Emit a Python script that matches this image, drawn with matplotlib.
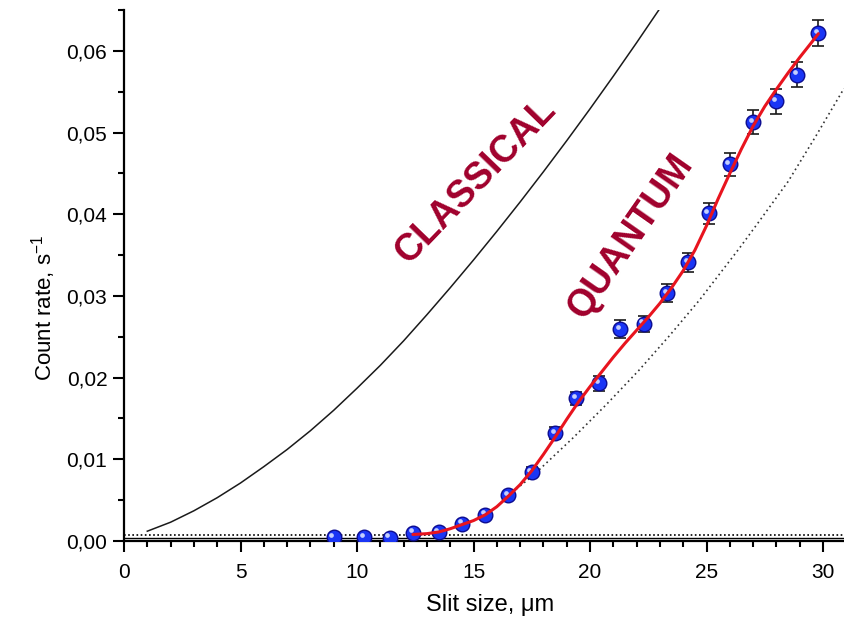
import matplotlib
matplotlib.use("Agg")
import matplotlib.pyplot as plt
import matplotlib.transforms as mtransforms
from matplotlib.ticker import MultipleLocator, FixedLocator, FixedFormatter

plt.rcParams['font.family'] = ['Liberation Sans', 'DejaVu Sans']
plt.rcParams['mathtext.fontset'] = 'custom'
plt.rcParams['mathtext.rm'] = 'Liberation Sans'
plt.rcParams['mathtext.it'] = 'Liberation Sans:italic'
plt.rcParams['mathtext.bf'] = 'Liberation Sans:bold'

# ---- data ----
exp_x = [9.0, 10.3, 11.4, 12.4, 13.5, 14.5, 15.5, 16.5, 17.5, 18.5, 19.4, 20.4,
         21.3, 22.3, 23.3, 24.2, 25.1, 26.0, 27.0, 28.0, 28.9, 29.8]
exp_y = [0.0005, 0.0005, 0.0004, 0.0010, 0.0011, 0.0021, 0.0032, 0.0056, 0.0084,
         0.0132, 0.0175, 0.0193, 0.0259, 0.0266, 0.0303, 0.0341, 0.0401, 0.0461,
         0.0513, 0.0538, 0.0571, 0.0622]
exp_err = [0.0002, 0.0002, 0.0002, 0.0003, 0.0003, 0.0003, 0.0004, 0.0004, 0.0006,
           0.0007, 0.0008, 0.0009, 0.0011, 0.0010, 0.0011, 0.0012, 0.0013, 0.0014,
           0.0015, 0.0015, 0.0015, 0.0016]

fit_x = [12.4, 13.0, 13.5, 14.0, 14.5, 15.0, 15.5, 16.0, 16.5, 17.0, 17.5, 18.0,
         18.5, 19.0, 19.5, 20.0, 20.5, 21.0, 21.5, 22.0, 22.5, 23.0, 23.5, 24.0,
         24.5, 25.0, 25.5, 26.0, 26.5, 27.0, 27.5, 28.0, 28.5, 29.0, 29.5, 29.8]
fit_y = [0.0008, 0.0009, 0.0011, 0.0015, 0.0020, 0.0025, 0.0032, 0.0042, 0.0055,
         0.0069, 0.0086, 0.0106, 0.0127, 0.0149, 0.0170, 0.0189, 0.0207, 0.0225,
         0.0242, 0.0258, 0.0274, 0.0291, 0.0310, 0.0331, 0.0356, 0.0386, 0.0419,
         0.0450, 0.0480, 0.0508, 0.0532, 0.0553, 0.0573, 0.0592, 0.0610, 0.0621]

classical_x = [1, 2, 3, 4, 5, 6, 7, 8, 9, 10, 11, 12, 13, 14, 15, 16, 17, 18,
               19, 20, 21, 22, 23, 23.2]
classical_y = [0.0012, 0.0023, 0.0037, 0.0053, 0.0071, 0.0091, 0.0112, 0.0135,
               0.0160, 0.0187, 0.0215, 0.0245, 0.0277, 0.0310, 0.0344, 0.0379,
               0.0415, 0.0452, 0.0490, 0.0529, 0.0569, 0.0610, 0.0652, 0.0660]

dotted_x = [16.5, 17.55, 19.3, 20.7, 22.1, 23.4, 24.7, 26.4, 27.2, 28.5, 29.7, 30.9]
dotted_y = [0.0056, 0.0080, 0.0127, 0.0167, 0.0209, 0.0251, 0.0295, 0.0358,
            0.0389, 0.0440, 0.0496, 0.0554]

baseline_solid = 0.0004
baseline_dotted = 0.0007

y_ticks = [0.00, 0.01, 0.02, 0.03, 0.04, 0.05, 0.06]
y_ticklabels = ["0,00", "0,01", "0,02", "0,03", "0,04", "0,05", "0,06"]
x_ticks = [0, 5, 10, 15, 20, 25, 30]
x_ticklabels = ["0", "5", "10", "15", "20", "25", "30"]

label_color = '#a0002c'

# ---- figure ----
fig = plt.figure(figsize=(8.44, 6.24), dpi=100)
ax = fig.add_axes([124/844, 1 - 541/624, 1 - 124/844, (541 - 10)/624])
ax.set_xlim(0, 30.9)
ax.set_ylim(0, 0.065)

for s in ['top', 'right']:
    ax.spines[s].set_visible(False)
for s in ['left', 'bottom']:
    ax.spines[s].set_linewidth(1.6)

ax.axhline(baseline_solid, color='black', lw=1.0, zorder=1)
ax.axhline(baseline_dotted, color='black', lw=1.2, ls=(0, (1, 1.5)), zorder=1)

ax.plot(classical_x, classical_y, color='#1a1a1a', lw=1.1, zorder=2)
ax.plot(dotted_x, dotted_y, color='#333333', lw=1.2, ls=(0, (1, 2)), zorder=2)

ax.errorbar(exp_x, exp_y, yerr=exp_err, fmt='none', ecolor='#1a1a1a',
            elinewidth=1.2, capsize=4.5, capthick=1.2, zorder=3)
ax.plot(exp_x, exp_y, 'o', ms=10.5, mfc='#1a35f5', mec='#0c0c90', mew=1.0,
        ls='none', zorder=4)
hl_trans = mtransforms.offset_copy(ax.transData, fig=fig, x=-1.7, y=1.7, units='points')
ax.plot(exp_x, exp_y, 'o', ms=3.4, mfc='#d8e0ff', mec='none', ls='none',
        transform=hl_trans, zorder=5, alpha=0.9)

ax.plot(fit_x, fit_y, color='#e8141e', lw=2.2, zorder=6, solid_capstyle='round',
        solid_joinstyle='round')

ax.xaxis.set_major_locator(FixedLocator(x_ticks))
ax.xaxis.set_major_formatter(FixedFormatter(x_ticklabels))
ax.xaxis.set_minor_locator(MultipleLocator(1))
ax.yaxis.set_major_locator(FixedLocator(y_ticks))
ax.yaxis.set_major_formatter(FixedFormatter(y_ticklabels))
ax.yaxis.set_minor_locator(MultipleLocator(0.005))

ax.tick_params(which='major', direction='out', length=8, width=1.5,
               labelsize=15, pad=4)
ax.tick_params(axis='x', which='major', pad=8)
ax.tick_params(which='minor', direction='out', length=4.5, width=1.5)

ax.set_xlabel('Slit size, μm', fontsize=17)
ax.set_ylabel('Count rate, s$^{-1}$', fontsize=16)
ax.xaxis.set_label_coords(0.508, -0.100)
ax.yaxis.set_label_coords(-0.092, 0.44)

fig.text(476/844, 1 - 181/624, 'CLASSICAL', fontsize=27, fontweight='bold',
         color=label_color, rotation=46, ha='center', va='center',
         rotation_mode='anchor')
fig.text(631/844, 1 - 236/624, 'QUANTUM', fontsize=27, fontweight='bold',
         color=label_color, rotation=55, ha='center', va='center',
         rotation_mode='anchor')

fig.savefig('out.png', dpi=100)
